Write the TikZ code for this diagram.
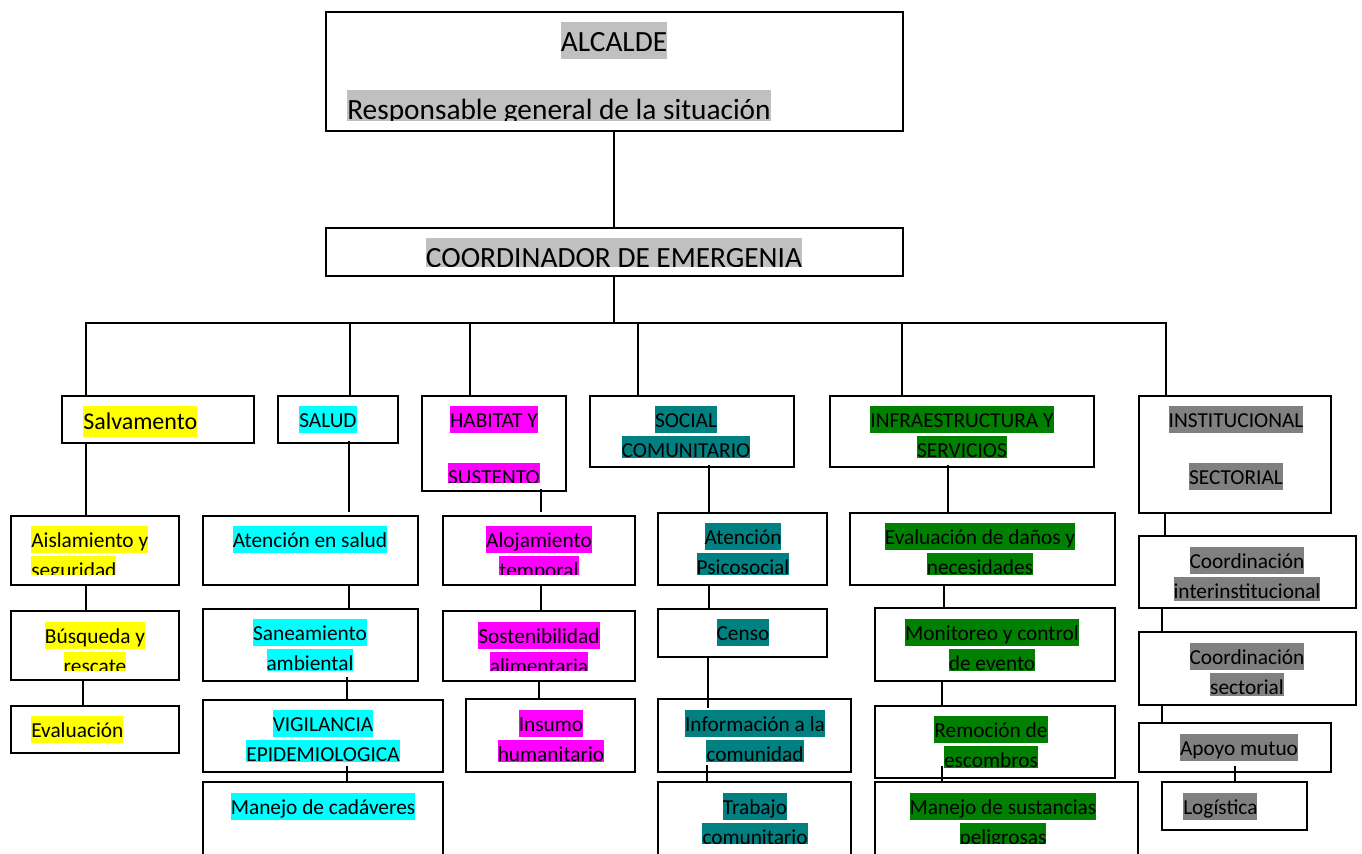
\documentclass[tikz,border=0pt]{standalone}
\usepackage{fontspec}
\setmainfont{Carlito}
\usetikzlibrary{fit,calc}
\definecolor{hy}{HTML}{FFFF00}
\definecolor{hc}{HTML}{00FFFF}
\definecolor{hm}{HTML}{FF00FF}
\definecolor{ht}{HTML}{008080}
\definecolor{hg}{HTML}{008000}
\definecolor{hd}{HTML}{808080}
\definecolor{hl}{HTML}{C0C0C0}
\newcommand\hlt[2]{{\setlength{\fboxsep}{0pt}\colorbox{#1}{\rule[-0.28em]{0pt}{1.26em}#2}}}
\newcommand\conn[5]{\coordinate (cx) at (#3,0); \draw[conn] ($(#1.south -| cx)+(0,#4)$) -- ($(#2.north -| cx)+(0,#5)$);}
\tikzset{
  box/.style={draw, line width=1.5pt, inner sep=0pt},
  conn/.style={line width=1.5pt},
  tx/.style={inner sep=0pt, align=center, anchor=north, font=\fontsize{16}{22.5}\selectfont},
  txl/.style={tx, align=left, anchor=north west},
  big/.style={font=\fontsize{22}{30}\selectfont},
}
\begin{document}
\begin{tikzpicture}[x=0.75pt,y=-0.75pt]
\useasboundingbox (0,0) rectangle (1362,853);
\clip (0,0) rectangle (1362,853);
% boxes
\node[box, fit={(326,12)(903,131)}] (alc) {};
\node[box, fit={(326,228)(903,276)}] (coord) {};
\node[box, fit={(62,396)(254,443)}] (salv) {};
\node[box, fit={(278,396)(398,443)}] (salud) {};
\node[box, fit={(422,396)(566,491)}] (hab) {};
\node[box, fit={(590,396)(794,467)}] (soc) {};
\node[box, fit={(830,396)(1094,467)}] (infra) {};
\node[box, fit={(1139,396)(1331,513)}] (inst) {};
\node[box, fit={(11,516)(179,585)}] (aisl) {};
\node[box, fit={(11,611)(179,680)}] (busq) {};
\node[box, fit={(11,706)(179,753)}] (eval) {};
\node[box, fit={(203,516)(418,585)}] (aten) {};
\node[box, fit={(203,609)(418,681)}] (sane) {};
\node[box, fit={(203,700)(443,772)}] (vig) {};
\node[box, fit={(203,782)(443,880)}] (mcad) {};
\node[box, fit={(443,516)(635,585)}] (aloj) {};
\node[box, fit={(443,611)(635,681)}] (sost) {};
\node[box, fit={(466,699)(635,772)}] (insu) {};
\node[box, fit={(658,513)(827,585)}] (atps) {};
\node[box, fit={(658,609)(827,657)}] (censo) {};
\node[box, fit={(658,699)(851,772)}] (info) {};
\node[box, fit={(658,782)(851,880)}] (trab) {};
\node[box, fit={(850,513)(1115,585)}] (evd) {};
\node[box, fit={(875,608)(1115,681)}] (moni) {};
\node[box, fit={(875,706)(1115,778)}] (remo) {};
\node[box, fit={(875,782)(1138,880)}] (mss) {};
\node[box, fit={(1139,536)(1356,608)}] (coi) {};
\node[box, fit={(1139,632)(1356,705)}] (cos) {};
\node[box, fit={(1139,723)(1331,772)}] (apo) {};
\node[box, fit={(1162,782)(1307,830)}] (logi) {};
% connectors
\coordinate (bus) at (614,323);
\draw[conn] (alc.south -| bus) -- (coord.north -| bus);
\coordinate (d1) at (86,0);
\coordinate (d2) at (350,0);
\coordinate (d3) at (470,0);
\coordinate (d4) at (638,0);
\coordinate (d5) at (902,0);
\coordinate (d6) at (1166,0);
\draw[conn] (coord.south -| bus) -- (bus);
\draw[conn] (salv.north -| d1) -- (d1 |- bus) -- (d6 |- bus) -- (inst.north -| d6);
\draw[conn] (salud.north -| d2) -- (d2 |- bus);
\draw[conn] (hab.north -| d3) -- (d3 |- bus);
\draw[conn] (soc.north -| d4) -- (d4 |- bus);
\draw[conn] (infra.north -| d5) -- (d5 |- bus);
\conn{salv}{aisl}{86}{0}{0}
\conn{aisl}{busq}{86}{0}{0}
\conn{busq}{eval}{83}{0}{0}
\conn{salud}{aten}{349}{-3}{-3}
\conn{aten}{sane}{349}{0}{0}
\conn{sane}{vig}{347}{-5}{0}
\conn{vig}{mcad}{347}{-7}{0}
\conn{hab}{aloj}{541}{-3}{-3}
\conn{aloj}{sost}{541}{0}{0}
\conn{sost}{insu}{539}{0}{0}
\conn{soc}{atps}{709}{-3}{0}
\conn{atps}{censo}{709}{0}{0}
\conn{censo}{info}{708}{0}{10}
\conn{info}{trab}{707}{-8}{0}
\conn{infra}{evd}{948}{-3}{0}
\conn{evd}{moni}{944}{0}{0}
\conn{moni}{remo}{942}{0}{0}
\conn{remo}{mss}{942}{-13}{0}
\conn{inst}{coi}{1165}{0}{0}
\conn{coi}{cos}{1162}{0}{0}
\conn{cos}{apo}{1162}{0}{0}
\conn{apo}{logi}{1235}{-7}{0}
% texts
\node[tx, big] (t-alc) at (614,22) {\hlt{hl}{ALCALDE}};
\begin{scope}\clip (0,60) rectangle (1362,120);
\node[txl, big] (t-resp) at (347,90) {\hlt{hl}{Responsable general de la situación}};
\end{scope}
\begin{scope}\clip (0,200) rectangle (1362,266);
\node[tx, big] (t-coord) at (614,238) {\hlt{hl}{COORDINADOR DE EMERGENIA}};
\end{scope}
\node[txl, font=\fontsize{18}{22.5}\selectfont] (t-salv) at (83,406) {\hlt{hy}{Salvamento}};
\node[txl] (t-salud) at (299,406) {\hlt{hc}{SALUD}};
\node[tx] (t-hab1) at (494,406) {\hlt{hm}{HABITAT Y}};
\begin{scope}\clip (0,440) rectangle (1362,482);
\node[tx] (t-hab2) at (494,463) {\hlt{hm}{SUSTENTO}};
\end{scope}
\begin{scope}\clip (0,380) rectangle (1362,457);
\node[tx] (t-soc) at (686,406) {\hlt{ht}{SOCIAL}\\\hlt{ht}{COMUNITARIO}};
\node[tx] (t-infra) at (962,406) {\hlt{hg}{INFRAESTRUCTURA Y}\\\hlt{hg}{SERVICIOS}};
\end{scope}
\node[tx] (t-inst1) at (1236,406) {\hlt{hd}{INSTITUCIONAL}};
\node[tx] (t-inst2) at (1236,463) {\hlt{hd}{SECTORIAL}};
\begin{scope}\clip (0,500) rectangle (1362,574);
\node[txl] (t-aisl) at (31,526) {\hlt{hy}{Aislamiento y}\\\hlt{hy}{seguridad}};
\node[tx] (t-aloj) at (539,526) {\hlt{hm}{Alojamiento}\\\hlt{hm}{temporal}};
\node[tx] (t-atps) at (743,523) {\hlt{ht}{Atención}\\\hlt{ht}{Psicosocial}};
\node[tx] (t-evd) at (980,523) {\hlt{hg}{Evaluación de daños y}\\\hlt{hg}{necesidades}};
\end{scope}
\node[tx] (t-aten) at (310,526) {\hlt{hc}{Atención en salud}};
\begin{scope}\clip (0,600) rectangle (1362,670);
\node[tx] (t-busq) at (95,622) {\hlt{hy}{Búsqueda y}\\\hlt{hy}{rescate}};
\node[tx] (t-sane) at (310,619) {\hlt{hc}{Saneamiento}\\\hlt{hc}{ambiental}};
\node[tx] (t-sost) at (539,622) {\hlt{hm}{Sostenibilidad}\\\hlt{hm}{alimentaria}};
\node[tx] (t-moni) at (992,619) {\hlt{hg}{Monitoreo y control}\\\hlt{hg}{de evento}};
\end{scope}
\node[tx] (t-censo) at (743,619) {\hlt{ht}{Censo}};
\begin{scope}\clip (0,530) rectangle (1362,600);
\node[tx] (t-coi) at (1247,547) {\hlt{hd}{Coordinación}\\\hlt{hd}{interinstitucional}};
\end{scope}
\begin{scope}\clip (0,620) rectangle (1362,695);
\node[tx] (t-cos) at (1247,643) {\hlt{hd}{Coordinación}\\\hlt{hd}{sectorial}};
\end{scope}
\node[txl] (t-eval) at (31,716) {\hlt{hy}{Evaluación}};
\begin{scope}\clip (0,690) rectangle (1362,761);
\node[tx] (t-vig) at (323,710) {\hlt{hc}{VIGILANCIA}\\\hlt{hc}{EPIDEMIOLOGICA}};
\node[tx] (t-insu) at (551,710) {\hlt{hm}{Insumo}\\\hlt{hm}{humanitario}};
\node[tx] (t-info) at (755,710) {\hlt{ht}{Información a la}\\\hlt{ht}{comunidad}};
\end{scope}
\begin{scope}\clip (0,700) rectangle (1362,767);
\node[tx] (t-remo) at (991,716) {\hlt{hg}{Remoción de}\\\hlt{hg}{escombros}};
\end{scope}
\node[tx] (t-apo) at (1239,734) {\hlt{hd}{Apoyo mutuo}};
\node[tx] (t-mcad) at (323,793) {\hlt{hc}{Manejo de cadáveres}};
\begin{scope}\clip (0,785) rectangle (1362,843);
\node[tx] (t-trab) at (755,793) {\hlt{ht}{Trabajo}\\\hlt{ht}{comunitario}};
\node[tx] (t-mss) at (1003,793) {\hlt{hg}{Manejo de sustancias}\\\hlt{hg}{peligrosas}};
\end{scope}
\node[txl] (t-log) at (1183,793) {\hlt{hd}{Logística}};
\end{tikzpicture}
\end{document}
